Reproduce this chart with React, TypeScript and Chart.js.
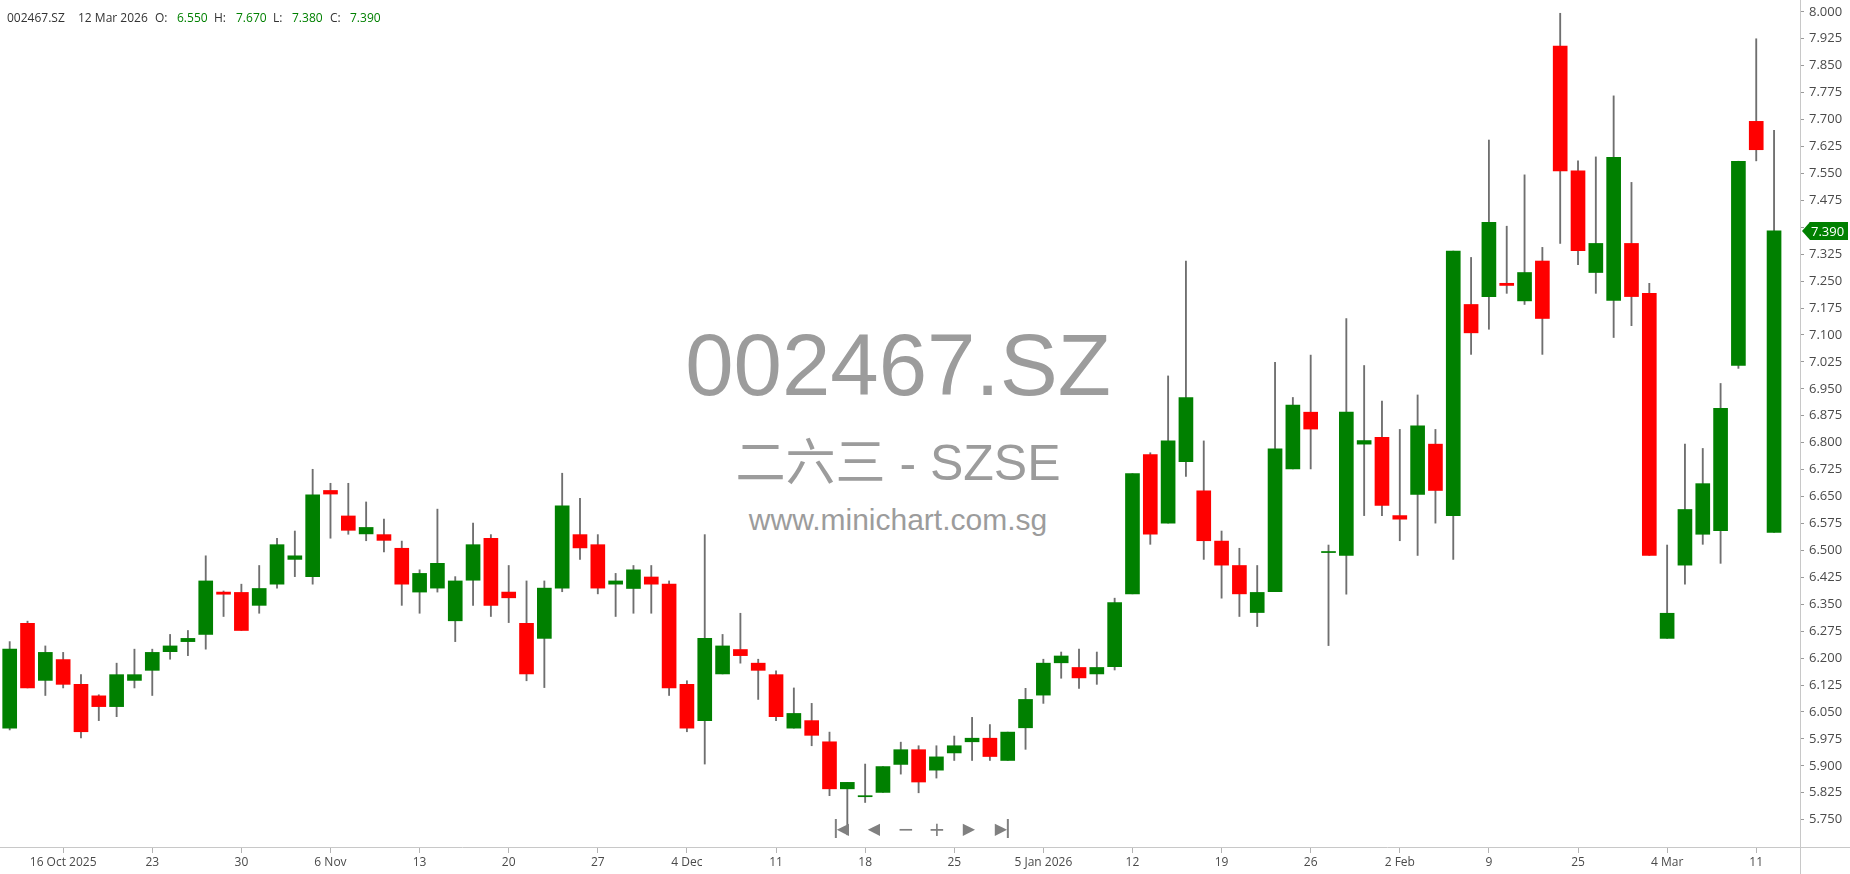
import React, { useEffect, useRef } from "react";
import { Chart, registerables } from "chart.js";

Chart.register(...registerables);

// ---------- header / watermark text ----------
const SYMBOL = "002467.SZ";
const LAST_DATE = "12 Mar 2026";
const HEADER_LABELS = ["O:", "H:", "L:", "C:"];
const HEADER_VALUES = ["6.550", "7.670", "7.380", "7.390"];
const WATERMARK_NAME = "二六三 - SZSE";
const WATERMARK_URL = "www.minichart.com.sg";

// ---------- OHLC data (one entry per trading day, 13 Oct 2025 .. 12 Mar 2026) ----------
const OPEN = [
  6.005, 6.297, 6.138, 6.196, 6.127, 6.095, 6.065, 6.138, 6.166, 6.218,
  6.246, 6.266, 6.384, 6.383, 6.347, 6.406, 6.475, 6.427, 6.667, 6.596,
  6.546, 6.544, 6.506, 6.384, 6.395, 6.304, 6.417, 6.534, 6.384, 6.297,
  6.255, 6.395, 6.544, 6.516, 6.406, 6.394, 6.426, 6.406, 6.127, 6.026,
  6.156, 6.224, 6.186, 6.154, 6.005, 6.026, 5.967, 5.836, 5.814, 5.826,
  5.904, 5.945, 5.888, 5.936, 5.967, 5.977, 5.915, 6.006, 6.097, 6.187,
  6.174, 6.156, 6.176, 6.379, 6.767, 6.576, 6.747, 6.666, 6.526, 6.458,
  6.327, 6.385, 6.727, 6.885, 6.494, 6.486, 6.796, 6.815, 6.597, 6.656,
  6.796, 6.597, 7.185, 7.207, 7.244, 7.195, 7.306, 7.905, 7.557, 7.274,
  7.196, 7.355, 7.216, 6.255, 6.459, 6.545, 6.555, 7.015, 7.695, 6.550,
];
const HIGH = [
  6.246, 6.303, 6.234, 6.216, 6.154, 6.098, 6.186, 6.225, 6.225, 6.266,
  6.277, 6.485, 6.387, 6.406, 6.458, 6.534, 6.554, 6.726, 6.687, 6.687,
  6.635, 6.587, 6.526, 6.446, 6.615, 6.427, 6.576, 6.544, 6.458, 6.415,
  6.415, 6.715, 6.645, 6.544, 6.436, 6.458, 6.458, 6.415, 6.137, 6.544,
  6.266, 6.325, 6.197, 6.165, 6.117, 6.074, 5.994, 5.854, 5.905, 5.898,
  5.966, 5.956, 5.956, 5.983, 6.035, 6.015, 5.994, 6.116, 6.197, 6.217,
  6.225, 6.217, 6.367, 6.714, 6.772, 6.986, 7.306, 6.805, 6.554, 6.506,
  6.458, 7.024, 6.926, 7.044, 6.515, 7.146, 7.015, 6.916, 6.837, 6.933,
  6.837, 7.334, 7.316, 7.643, 7.403, 7.546, 7.344, 7.996, 7.585, 7.596,
  7.766, 7.525, 7.244, 6.515, 6.796, 6.784, 6.965, 7.584, 7.925, 7.670,
];
const LOW = [
  6.000, 6.117, 6.096, 6.117, 5.978, 6.026, 6.037, 6.117, 6.096, 6.197,
  6.207, 6.225, 6.316, 6.277, 6.325, 6.395, 6.427, 6.406, 6.534, 6.545,
  6.527, 6.496, 6.347, 6.325, 6.384, 6.246, 6.347, 6.316, 6.299, 6.137,
  6.118, 6.385, 6.475, 6.379, 6.316, 6.325, 6.325, 6.096, 5.995, 5.905,
  6.156, 6.186, 6.085, 6.026, 6.005, 5.956, 5.817, 5.708, 5.798, 5.826,
  5.877, 5.825, 5.866, 5.915, 5.915, 5.915, 5.915, 5.946, 6.074, 6.144,
  6.116, 6.127, 6.167, 6.379, 6.517, 6.576, 6.706, 6.475, 6.367, 6.316,
  6.288, 6.385, 6.727, 6.727, 6.235, 6.378, 6.597, 6.597, 6.527, 6.486,
  6.576, 6.475, 7.046, 7.116, 7.216, 7.185, 7.046, 7.355, 7.296, 7.216,
  7.093, 7.126, 6.486, 6.255, 6.406, 6.517, 6.464, 7.007, 7.585, 6.550,
];
const CLOSE = [
  6.225, 6.117, 6.216, 6.127, 5.995, 6.065, 6.154, 6.154, 6.216, 6.234,
  6.255, 6.415, 6.378, 6.277, 6.394, 6.516, 6.485, 6.655, 6.657, 6.556,
  6.564, 6.528, 6.406, 6.436, 6.464, 6.415, 6.516, 6.347, 6.368, 6.156,
  6.395, 6.624, 6.507, 6.395, 6.415, 6.446, 6.406, 6.117, 6.005, 6.255,
  6.234, 6.207, 6.166, 6.037, 6.046, 5.985, 5.836, 5.854, 5.817, 5.898,
  5.945, 5.855, 5.925, 5.956, 5.977, 5.926, 5.994, 6.085, 6.186, 6.206,
  6.145, 6.174, 6.355, 6.714, 6.545, 6.805, 6.926, 6.527, 6.459, 6.379,
  6.383, 6.783, 6.905, 6.838, 6.497, 6.885, 6.806, 6.625, 6.587, 6.847,
  6.667, 7.334, 7.106, 7.414, 7.238, 7.274, 7.146, 7.557, 7.335, 7.355,
  7.595, 7.207, 6.486, 6.325, 6.614, 6.686, 6.896, 7.584, 7.616, 7.390,
];

// ---------- axis ticks ----------
const X_TICK_INDEX = [3, 8, 13, 18, 23, 28, 33, 38, 43, 48, 53, 58, 63, 68, 73, 78, 83, 88, 93, 98];
const X_TICK_LABELS = [
  "16 Oct 2025", "23", "30", "6 Nov", "13", "20", "27", "4 Dec", "11", "18",
  "25", "5 Jan 2026", "12", "19", "26", "2 Feb", "9", "25", "4 Mar", "11",
];
const Y_TICKS = [
  5.75, 5.825, 5.9, 5.975, 6.05, 6.125, 6.2, 6.275, 6.35, 6.425, 6.5,
  6.575, 6.65, 6.725, 6.8, 6.875, 6.95, 7.025, 7.1, 7.175, 7.25, 7.325,
  7.4, 7.475, 7.55, 7.625, 7.7, 7.775, 7.85, 7.925, 8.0,
];

const GREEN = "#008000";
const RED = "#ff0000";
const WICK = "#6f6f6f";
const AXIS_LINE = "#c8c8c8";
const LABEL = "#4a4a4a";
const FONT = "'Open Sans', 'DejaVu Sans', sans-serif";

export default function App() {
  const canvasRef = useRef<HTMLCanvasElement | null>(null);

  useEffect(() => {
    const canvas = canvasRef.current;
    if (!canvas) return;
    const idx = OPEN.map((_, i) => i);
    const colors = idx.map((i) => (CLOSE[i] >= OPEN[i] ? GREEN : RED));

    const framePlugin = {
      id: "frame",
      afterDraw(chart: any) {
        const { ctx, chartArea, width, height } = chart;
        ctx.save();
        ctx.strokeStyle = AXIS_LINE;
        ctx.lineWidth = 1;
        ctx.beginPath();
        ctx.moveTo(0, Math.round(chartArea.bottom) + 0.5);
        ctx.lineTo(width, Math.round(chartArea.bottom) + 0.5);
        ctx.moveTo(Math.round(chartArea.right) + 0.5, 0);
        ctx.lineTo(Math.round(chartArea.right) + 0.5, height);
        ctx.stroke();

        // last price tag
        const last = CLOSE[CLOSE.length - 1];
        const y = Math.round(chart.scales.y.getPixelForValue(last));
        const x0 = chartArea.right + 2;
        ctx.fillStyle = GREEN;
        ctx.beginPath();
        ctx.moveTo(x0, y);
        ctx.lineTo(x0 + 8, y - 9);
        ctx.lineTo(x0 + 46, y - 9);
        ctx.lineTo(x0 + 46, y + 9);
        ctx.lineTo(x0 + 8, y + 9);
        ctx.closePath();
        ctx.fill();
        ctx.fillStyle = "#ffffff";
        ctx.font = `13px ${FONT}`;
        ctx.textBaseline = "middle";
        ctx.textAlign = "left";
        ctx.fillText(last.toFixed(3), x0 + 9, y + 1);
        ctx.restore();
      },
    };

    const chart = new Chart(canvas, {
      type: "bar",
      data: {
        datasets: [
          {
            label: "body",
            data: idx.map((i) => ({ x: i, y: [OPEN[i], CLOSE[i]] })) as any,
            backgroundColor: colors,
            borderWidth: 0,
            barThickness: 14,
            grouped: false,
          } as any,
          {
            label: "wick",
            data: idx.map((i) => ({ x: i, y: [LOW[i], HIGH[i]] })) as any,
            backgroundColor: WICK,
            borderWidth: 0,
            barThickness: 1.2,
            grouped: false,
          } as any,
        ],
      },
      options: {
        animation: false,
        responsive: false,
        maintainAspectRatio: false,
        events: [],
        layout: { padding: 0 },
        plugins: {
          legend: { display: false },
          tooltip: { enabled: false },
          title: { display: false },
        },
        scales: {
          x: {
            type: "linear",
            min: -0.544,
            max: 100.456,
            offset: false,
            bounds: "data",
            afterBuildTicks: (s: any) => {
              s.ticks = X_TICK_INDEX.map((v) => ({ value: v }));
            },
            afterFit: (s: any) => {
              s.height = 27;
              s.paddingLeft = 0;
              s.paddingRight = 0;
            },
            grid: {
              drawOnChartArea: false,
              drawTicks: true,
              tickLength: 6,
              color: "#b4b4b4",
              offset: false,
            },
            border: { display: false },
            ticks: {
              autoSkip: false,
              maxRotation: 0,
              minRotation: 0,
              padding: 2,
              color: LABEL,
              font: { family: FONT, size: 12 },
              callback: (v: any) => {
                const k = X_TICK_INDEX.indexOf(Number(v));
                return k >= 0 ? X_TICK_LABELS[k] : "";
              },
            },
          } as any,
          y: {
            type: "linear",
            position: "right",
            min: 5.674,
            max: 8.033,
            bounds: "data",
            afterBuildTicks: (s: any) => {
              s.ticks = Y_TICKS.map((v) => ({ value: v }));
            },
            afterFit: (s: any) => {
              s.width = 50;
              s.paddingTop = 0;
              s.paddingBottom = 0;
            },
            grid: {
              drawOnChartArea: false,
              drawTicks: true,
              tickLength: 4,
              color: "#9a9a9a",
            },
            border: { display: false },
            ticks: {
              autoSkip: false,
              padding: 5,
              color: LABEL,
              font: { family: FONT, size: 13 },
              callback: (v: any) => Number(v).toFixed(3),
            },
          } as any,
        },
      },
      plugins: [framePlugin],
    });
    return () => chart.destroy();
  }, []);

  const headerItems: { text: string; x: number; color: string }[] = [
    { text: SYMBOL, x: 7, color: "#333" },
    { text: LAST_DATE, x: 78, color: "#333" },
    { text: HEADER_LABELS[0], x: 155, color: "#333" },
    { text: HEADER_VALUES[0], x: 177, color: GREEN },
    { text: HEADER_LABELS[1], x: 214, color: "#333" },
    { text: HEADER_VALUES[1], x: 236, color: GREEN },
    { text: HEADER_LABELS[2], x: 273, color: "#333" },
    { text: HEADER_VALUES[2], x: 292, color: GREEN },
    { text: HEADER_LABELS[3], x: 330, color: "#333" },
    { text: HEADER_VALUES[3], x: 350, color: GREEN },
  ];

  const wm: React.CSSProperties = {
    position: "absolute",
    left: 898,
    transform: "translateX(-50%)",
    whiteSpace: "nowrap",
    color: "#9c9c9c",
    fontFamily: "'Liberation Sans', Arial, 'Noto Sans CJK SC', sans-serif",
    lineHeight: 1,
  };

  const navStyle: React.CSSProperties = {
    position: "absolute",
    top: 819,
    height: 20,
    lineHeight: "20px",
    color: "#808080",
    fontFamily: "'DejaVu Sans', sans-serif",
    fontSize: 16,
    transform: "translateX(-50%)",
    whiteSpace: "nowrap",
  };

  return (
    <div
      style={{
        position: "absolute",
        left: 0,
        top: 0,
        width: 1850,
        height: 874,
        background: "#ffffff",
        overflow: "hidden",
      }}
    >
      <div style={{ ...wm, top: 321, fontSize: 87 }}>{SYMBOL}</div>
      <div style={{ ...wm, top: 438, fontSize: 50 }}>{WATERMARK_NAME}</div>
      <div style={{ ...wm, top: 505, fontSize: 30 }}>{WATERMARK_URL}</div>
      <canvas
        ref={canvasRef}
        width={1850}
        height={874}
        style={{ position: "absolute", left: 0, top: 0, width: 1850, height: 874 }}
      />
      {headerItems.map((h, i) => (
        <span
          key={i}
          style={{
            position: "absolute",
            left: h.x,
            top: 10,
            lineHeight: "16px",
            fontSize: 12,
            fontFamily: FONT,
            color: h.color,
            whiteSpace: "nowrap",
          }}
        >
          {h.text}
        </span>
      ))}
      <span style={{ ...navStyle, left: 842 }}>
        <span style={{ borderLeft: "2px solid #808080" }}>◀</span>
      </span>
      <span style={{ ...navStyle, left: 874 }}>◀</span>
      <span style={{ ...navStyle, left: 906, fontSize: 20 }}>−</span>
      <span style={{ ...navStyle, left: 937, fontSize: 20 }}>+</span>
      <span style={{ ...navStyle, left: 969 }}>▶</span>
      <span style={{ ...navStyle, left: 1002 }}>
        <span style={{ borderRight: "2px solid #808080" }}>▶</span>
      </span>
    </div>
  );
}
